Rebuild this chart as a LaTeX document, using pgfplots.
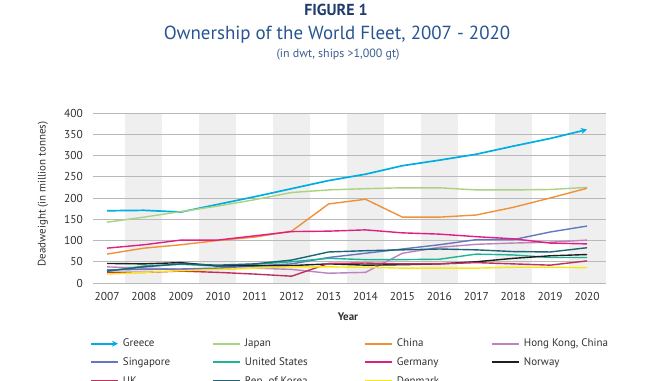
\documentclass[border=0pt]{standalone}
\usepackage{fontspec}
\setmainfont{PT Sans}
\usepackage{pgfplots}
\pgfplotsset{compat=1.18}
\usetikzlibrary{arrows.meta}
\definecolor{cGreece}{RGB}{0,174,226}
\definecolor{cJapan}{RGB}{170,210,130}
\definecolor{cChina}{RGB}{240,145,55}
\definecolor{cHK}{RGB}{190,130,190}
\definecolor{cSing}{RGB}{100,120,190}
\definecolor{cUS}{RGB}{30,180,150}
\definecolor{cGer}{RGB}{225,30,130}
\definecolor{cNor}{RGB}{30,30,30}
\definecolor{cUK}{RGB}{190,50,90}
\definecolor{cKor}{RGB}{30,100,120}
\definecolor{cDen}{RGB}{250,230,20}
\definecolor{cFig}{RGB}{30,60,110}
\definecolor{cTitle}{RGB}{40,85,145}
\definecolor{cSub}{RGB}{60,95,145}
\definecolor{cBand}{RGB}{239,239,239}
\definecolor{cGrid}{RGB}{185,185,185}
\definecolor{cText}{RGB}{50,50,50}
\begin{document}
\begin{tikzpicture}[x=1bp,y=1bp]
\node[font=\fontsize{16}{18}\selectfont\bfseries, text=cFig, anchor=base] at (336,364.5) {FIGURE 1};
\node[font=\fontsize{19}{22}\selectfont, text=cTitle, anchor=base] at (337,340.5) {Ownership of the World Fleet, 2007 - 2020};
\node[font=\fontsize{12}{14}\selectfont, text=cSub, anchor=base] at (338,322.5) {(in dwt, ships >1,000 gt)};
\node[font=\fontsize{11}{13}\selectfont, text=cText, rotate=90] at (43,186) {Deadweight (in million tonnes)};
\node[font=\fontsize{11}{13}\selectfont\bfseries, text=cText] at (348,63) {Year};
\begin{axis}[
  at={(93bp,97bp)}, anchor=south west,
  width=512.5bp, height=170bp, scale only axis,
  set layers,
  xmin=2006.62, xmax=2020.5, ymin=0, ymax=400,
  xtick={2007,2008,...,2020},
  ytick={0,50,...,400},
  x tick label style={/pgf/number format/1000 sep={}},
  /pgf/number format/assume math mode=true,
  ymajorgrids, grid style={cGrid, line width=0.8bp},
  axis line style={draw=none},
  major tick length=0pt,
  tick style={draw=none},
  xticklabel style={font=\fontsize{11.5}{13}\selectfont, text=cText, inner sep=0pt, yshift=-9.5bp},
  yticklabel style={font=\fontsize{11.5}{13}\selectfont, text=cText, inner sep=0pt, xshift=-10bp},
  legend columns=4,
  legend cell align=left,
  legend image code/.code={\draw[#1, line width=2bp] (0bp,0bp) -- (27bp,0bp);},
  legend style={draw=none, fill=none, inner sep=0pt, outer sep=0pt,
    at={(axis description cs:-0.0059,-0.3294)}, anchor=north west,
    font=\fontsize{11}{13}\selectfont, text=cText,
    nodes={inner sep=0pt}, row sep=9.5bp,
    /tikz/every odd column/.append style={column sep=4bp}},
  every axis plot/.append style={line width=1.4bp, line join=round},
]
\begin{pgfonlayer}{axis background}
\fill[cBand] (axis cs:2007.5,0) rectangle (axis cs:2008.5,400);
\fill[cBand] (axis cs:2009.5,0) rectangle (axis cs:2010.5,400);
\fill[cBand] (axis cs:2011.5,0) rectangle (axis cs:2012.5,400);
\fill[cBand] (axis cs:2013.5,0) rectangle (axis cs:2014.5,400);
\fill[cBand] (axis cs:2015.5,0) rectangle (axis cs:2016.5,400);
\fill[cBand] (axis cs:2017.5,0) rectangle (axis cs:2018.5,400);
\fill[cBand] (axis cs:2019.5,0) rectangle (axis cs:2020.5,400);
\end{pgfonlayer}
% Greece
\addplot[cGreece, line width=1.7bp, -{Stealth[length=6bp,width=6bp]}] coordinates {
(2007,170) (2008,171) (2009,167) (2010,185) (2011,203) (2012,222) (2013,241)
(2014,256) (2015,276) (2016,289) (2017,303) (2018,322) (2019,340) (2020,361)};
\addlegendentry{\makebox[89bp][l]{Greece}}
% Japan
\addplot[cJapan] coordinates {
(2007,143) (2008,155) (2009,168) (2010,181) (2011,196) (2012,213) (2013,219)
(2014,222) (2015,224) (2016,224) (2017,219) (2018,219) (2019,220) (2020,225)};
\addlegendentry{\makebox[119bp][l]{Japan}}
% China
\addplot[cChina] coordinates {
(2007,68) (2008,82) (2009,90) (2010,100) (2011,108) (2012,122) (2013,186)
(2014,197) (2015,155) (2016,155) (2017,160) (2018,178) (2019,200) (2020,223)};
\addlegendentry{\makebox[94bp][l]{China}}
% Hong Kong
\addplot[cHK] coordinates {
(2007,38) (2008,35) (2009,32) (2010,33) (2011,35) (2012,32) (2013,23)
(2014,25) (2015,70) (2016,84) (2017,91) (2018,94) (2019,96) (2020,101)};
\addlegendentry{Hong Kong, China}
% Singapore
\addplot[cSing] coordinates {
(2007,31) (2008,32) (2009,33) (2010,35) (2011,40) (2012,45) (2013,60)
(2014,70) (2015,80) (2016,90) (2017,102) (2018,102) (2019,120) (2020,134)};
\addlegendentry{\makebox[89bp][l]{Singapore}}
% United States
\addplot[cUS] coordinates {
(2007,28) (2008,40) (2009,44) (2010,40) (2011,44) (2012,50) (2013,58)
(2014,55) (2015,55) (2016,56) (2017,68) (2018,66) (2019,60) (2020,60)};
\addlegendentry{\makebox[119bp][l]{United States}}
% Germany
\addplot[cGer] coordinates {
(2007,82) (2008,90) (2009,101) (2010,101) (2011,111) (2012,121) (2013,122)
(2014,125) (2015,118) (2016,115) (2017,109) (2018,104) (2019,94) (2020,92)};
\addlegendentry{\makebox[94bp][l]{Germany}}
% Norway
\addplot[cNor] coordinates {
(2007,46) (2008,45) (2009,48) (2010,40) (2011,41) (2012,41) (2013,45)
(2014,42) (2015,43) (2016,45) (2017,50) (2018,58) (2019,64) (2020,67)};
\addlegendentry{Norway}
% UK
\addplot[cUK] coordinates {
(2007,25) (2008,25) (2009,28) (2010,25) (2011,21) (2012,16) (2013,46)
(2014,47) (2015,45) (2016,45) (2017,48) (2018,45) (2019,42) (2020,52)};
\addlegendentry{\makebox[89bp][l]{UK}}
% Rep. of Korea
\addplot[cKor] coordinates {
(2007,28) (2008,38) (2009,45) (2010,42) (2011,45) (2012,54) (2013,73)
(2014,76) (2015,78) (2016,80) (2017,78) (2018,74) (2019,73) (2020,83)};
\addlegendentry{\makebox[119bp][l]{Rep. of Korea}}
% Denmark
\addplot[cDen] coordinates {
(2007,21) (2008,25) (2009,29) (2010,32) (2011,35) (2012,38) (2013,38)
(2014,37) (2015,35) (2016,35) (2017,35) (2018,37) (2019,37) (2020,36)};
\addlegendentry{\makebox[94bp][l]{Denmark}}
\end{axis}
\pgfresetboundingbox
\path[use as bounding box] (0,0) rectangle (670,380);
\end{tikzpicture}
\end{document}
